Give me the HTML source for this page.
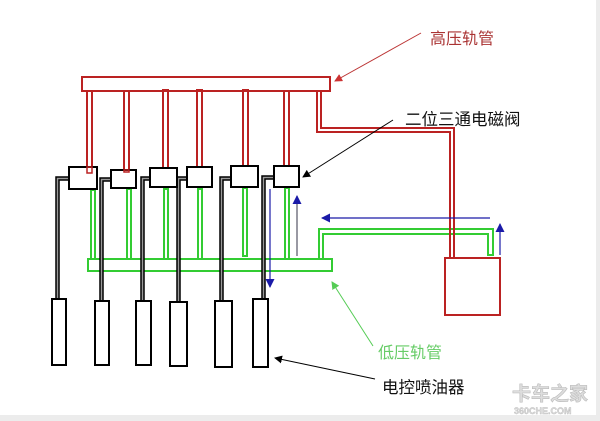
<!DOCTYPE html>
<html><head><meta charset="utf-8"><style>
html,body{margin:0;padding:0;background:#fff}
svg{display:block}
text{font-family:"Liberation Sans","Noto Sans CJK SC",sans-serif}
</style></head><body>
<svg width="600" height="421" viewBox="0 0 600 421" xmlns="http://www.w3.org/2000/svg">
<rect x="0" y="0" width="600" height="421" fill="#fff"/>
<rect x="596" y="0" width="4" height="421" fill="#ececec"/>
<rect x="0" y="415" width="600" height="6" fill="#ececec"/>
<defs>
<marker id="ab" markerWidth="8" markerHeight="8" refX="7" refY="4" orient="auto" markerUnits="userSpaceOnUse"><path d="M0,0 L8,4 L0,8 z" fill="#000"/></marker>
<marker id="ar" markerWidth="8" markerHeight="8" refX="7" refY="4" orient="auto" markerUnits="userSpaceOnUse"><path d="M0,0 L8,4 L0,8 z" fill="#c33"/></marker>
<marker id="ag" markerWidth="8" markerHeight="8" refX="7" refY="4" orient="auto" markerUnits="userSpaceOnUse"><path d="M0,0 L8,4 L0,8 z" fill="#5c5"/></marker>
<marker id="abl" markerWidth="9" markerHeight="9" refX="8" refY="4.5" orient="auto" markerUnits="userSpaceOnUse"><path d="M0,0 L9,4.5 L0,9 z" fill="#1a1aa8"/></marker>
</defs>

<!-- green low-pressure tubes -->
<g fill="none" stroke="#3c3" stroke-width="2">
<rect x="88" y="259" width="244" height="12"/>
<rect x="91" y="190" width="4" height="69"/>
<rect x="127" y="189" width="4" height="70"/>
<rect x="164" y="189" width="4" height="70"/>
<rect x="198" y="189" width="4" height="70"/>
<rect x="243" y="188" width="4" height="68"/>
<rect x="285" y="188" width="4" height="71"/>
<path d="M319,259 V229 H493 V255 H488 V234 H323 V259"/>
</g>

<!-- red high-pressure -->
<g fill="none" stroke="#b22" stroke-width="2">
<rect x="82" y="77" width="248" height="14"/>
<rect x="87" y="91" width="5" height="82"/>
<rect x="124" y="91" width="5" height="80"/>
<rect x="163" y="90" width="5" height="80"/>
<rect x="197" y="90" width="5" height="79"/>
<rect x="243" y="90" width="5" height="78"/>
<rect x="284" y="91" width="5" height="77"/>
<path d="M317,91 V132 H450 V258 H454 V128 H321 V91"/>
<rect x="445" y="258" width="55" height="57"/>
</g>

<!-- black injector pipes -->
<g fill="#999" stroke="#000" stroke-width="1.5">
<path d="M56,177 H69 V180 H59 V299 H56 Z"/>
<path d="M100,178 H111 V181 H103 V301 H100 Z"/>
<path d="M141,177 H150 V180 H144 V301 H141 Z"/>
<path d="M177,177 H187 V180 H180 V302 H177 Z"/>
<path d="M220,177 H231 V180 H223 V301 H220 Z"/>
<path d="M262,176 H274 V179 H265 V299 H262 Z"/>
</g>
<!-- valves -->
<g fill="#fff" stroke="#000" stroke-width="2">
<rect x="69" y="167" width="28" height="22"/>
<rect x="111" y="170" width="25" height="18"/>
<rect x="150" y="168" width="27" height="19"/>
<rect x="187" y="167" width="25" height="20"/>
<rect x="231" y="166" width="27" height="21"/>
<rect x="274" y="166" width="25" height="21"/>
</g>
<!-- red tube ends inside valves -->
<g fill="none" stroke="#b22" stroke-width="1.5">
<rect x="87" y="167" width="5" height="6"/>
<rect x="124" y="170" width="5" height="2"/>
</g>
<!-- injectors -->
<g fill="#fff" stroke="#000" stroke-width="2">
<rect x="52" y="299" width="14" height="66"/>
<rect x="95" y="301" width="14" height="64"/>
<rect x="136" y="301" width="15" height="64"/>
<rect x="170" y="302" width="17" height="64"/>
<rect x="215" y="301" width="17" height="66"/>
<rect x="253" y="299" width="15" height="68"/>
</g>

<!-- blue arrows -->
<g stroke="#1a1aa8" stroke-width="1.2" fill="none">
<line x1="490" y1="218" x2="322" y2="218" marker-end="url(#abl)"/>
<line x1="500" y1="255" x2="500" y2="224" marker-end="url(#abl)"/>
<line x1="270" y1="189" x2="270" y2="287" marker-end="url(#abl)"/>
<line x1="297" y1="256" x2="297" y2="196" stroke="#556" marker-end="url(#abl)"/>
</g>

<!-- label pointers -->
<line x1="421" y1="33" x2="335" y2="81" stroke="#b33" stroke-width="1" marker-end="url(#ar)"/>
<line x1="393" y1="120" x2="303" y2="177" stroke="#000" stroke-width="1" marker-end="url(#ab)"/>
<line x1="373" y1="346" x2="332" y2="282" stroke="#5c5" stroke-width="1" marker-end="url(#ag)"/>
<line x1="375" y1="379" x2="275" y2="358" stroke="#000" stroke-width="1" marker-end="url(#ab)"/>

<text x="430" y="44" font-size="16" fill="#a33">高压轨管</text>
<text x="405" y="125" font-size="16.5" fill="#111">二位三通电磁阀</text>
<text x="378" y="358" font-size="16" fill="#6c6">低压轨管</text>
<text x="382" y="393" font-size="16.5" fill="#111">电控喷油器</text>
<text x="512" y="400" font-size="19" font-weight="bold" fill="#ddd" stroke="#bbb" stroke-width="0.6">卡车之家</text>
<text x="514" y="414" font-size="9" font-weight="bold" fill="#ddd" stroke="#bbb" stroke-width="0.4">360CHE.COM</text>
</svg>
</body></html>
